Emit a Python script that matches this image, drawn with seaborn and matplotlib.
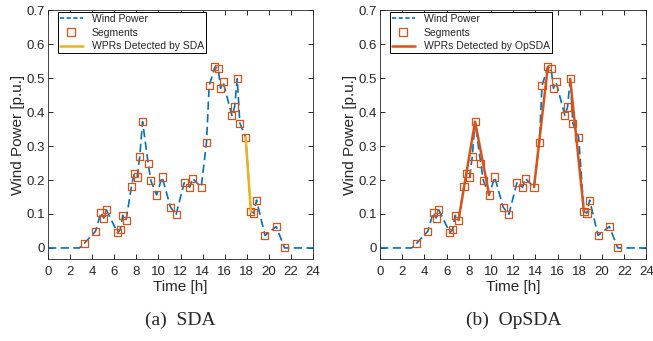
import numpy as np
import pandas as pd
import seaborn as sns
import matplotlib.pyplot as plt
from matplotlib.lines import Line2D

# Segment points (time in h, power in p.u.)
seg_t = [3.27, 4.30, 4.80, 5.05, 5.29, 6.29, 6.53, 6.77, 7.07, 7.56, 7.80, 8.07,
         8.31, 8.56, 9.07, 9.31, 9.83, 10.33, 11.09, 11.60, 12.33, 12.84, 13.08,
         13.87, 14.35, 14.59, 15.11, 15.41, 15.62, 15.85, 16.65, 16.89, 17.13,
         17.37, 17.89, 18.37, 18.64, 18.88, 19.64, 20.66, 21.42]
seg_p = [0.013, 0.049, 0.105, 0.088, 0.112, 0.045, 0.053, 0.096, 0.082, 0.182,
         0.218, 0.209, 0.270, 0.372, 0.249, 0.198, 0.156, 0.209, 0.120, 0.099,
         0.192, 0.179, 0.205, 0.179, 0.311, 0.478, 0.533, 0.529, 0.470, 0.489,
         0.390, 0.415, 0.498, 0.367, 0.326, 0.106, 0.103, 0.141, 0.037, 0.063,
         0.000]

# Wind power curve: flat zero at both ends, through the segment points
wind_t = [0.0, 2.85] + seg_t + [24.0]
wind_p = [0.0, 0.0] + seg_p + [0.0]

# Detected ramps (indices into the segment points)
sda_idx = [[34, 35]]
opsda_idx = [[8, 13, 16], [23, 26], [32, 35]]

blue = '#0072BD'
orange = '#D95319'
yellow = '#EDB120'

sns.set_style('ticks')
plt.rcParams['font.family'] = ['Liberation Sans', 'DejaVu Sans']
plt.rcParams['xtick.direction'] = 'in'
plt.rcParams['ytick.direction'] = 'in'

fig = plt.figure(figsize=(6.53, 3.41), dpi=100)
ax1 = fig.add_axes([0.0735, 0.240, 0.406, 0.730])
ax2 = fig.add_axes([0.582, 0.240, 0.408, 0.730])

wind = pd.DataFrame({'t': wind_t, 'p': wind_p})
seg = pd.DataFrame({'t': seg_t, 'p': seg_p})

panels = [(ax1, sda_idx, yellow, 'WPRs Detected by SDA', '(a)  SDA'),
          (ax2, opsda_idx, orange, 'WPRs Detected by OpSDA', '(b)  OpSDA')]

for ax, ramps, rc, rlabel, cap in panels:
    sns.lineplot(data=wind, x='t', y='p', ax=ax, color=blue, lw=1.2,
                 sort=False, estimator=None, zorder=2)
    ax.lines[-1].set_dashes((5, 2.6))
    sns.scatterplot(data=seg, x='t', y='p', ax=ax, marker='s', s=26,
                    facecolor='none', edgecolor=orange, linewidth=0.9,
                    zorder=3)
    for r in ramps:
        rd = seg.iloc[r]
        sns.lineplot(data=rd, x='t', y='p', ax=ax, color=rc, lw=1.8,
                     sort=False, estimator=None, zorder=4)

    ax.set_xlim(0, 24)
    ax.set_ylim(-0.033, 0.7)
    ax.set_xticks(np.arange(0, 25, 2))
    ax.set_yticks(np.arange(0, 0.71, 0.1))
    ax.set_yticklabels(['0', '0.1', '0.2', '0.3', '0.4', '0.5', '0.6', '0.7'])
    ax.tick_params(labelsize=9.5, top=True, right=True, length=3.5, width=0.7,
                   pad=2.5, colors='#262626')
    ax.tick_params(axis='x', pad=5)
    for s in ax.spines.values():
        s.set_linewidth(0.6)
        s.set_color('#262626')
    ax.set_xlabel('Time [h]', fontsize=11, labelpad=1.5)
    ax.set_ylabel('Wind Power [p.u.]', fontsize=11, labelpad=1)

    handles = [Line2D([], [], color=blue, lw=1.2, ls=(0, (2.5, 1.5))),
               Line2D([], [], ls='none', marker='s', ms=6, mfc='none',
                      mec=orange, mew=0.9),
               Line2D([], [], color=rc, lw=1.8)]
    leg = ax.legend(handles, ['Wind Power', 'Segments', rlabel],
                    loc='upper left', bbox_to_anchor=(0.03, 1.0), fontsize=7.5,
                    frameon=True, fancybox=False, edgecolor='black',
                    framealpha=1, borderpad=0.2, labelspacing=0.35,
                    handlelength=2.2, handletextpad=0.9, borderaxespad=0.15)
    leg.get_frame().set_linewidth(0.7)

    pos = ax.get_position()
    fig.text(pos.x0 + pos.width / 2, 0.035, cap, ha='center', va='bottom',
             fontsize=14, family=['Liberation Serif', 'DejaVu Serif'])

fig.savefig('out.png', dpi=100)
